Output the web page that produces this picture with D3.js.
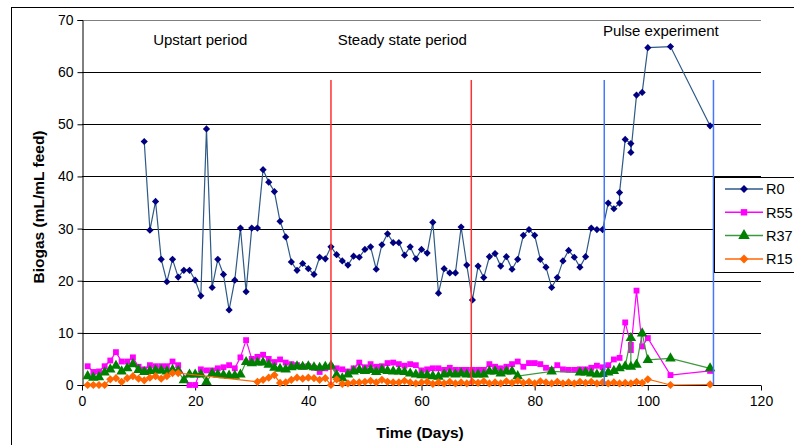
<!DOCTYPE html>
<html>
<head>
<meta charset="utf-8">
<script src="https://cdn.jsdelivr.net/npm/d3@7"></script>
<style>
  body { margin: 0; background: #fff; }
  svg { font-family: "Liberation Sans", Arial, sans-serif; }
</style>
</head>
<body>
<div id="vizcont"></div>
<script>
// ---- data ----
var r0Days = [11,12,13,14,15,16,17,18,19,20,21,22,23,24,25,26,27,28,29,30,31,32,33,34,35,36,37,38,39,40,
  41,42,43,44,45,46,47,48,49,50,51,52,53,54,55,56,57,58,59,60,61,62,63,64,65,66,67,68,69,70,
  71,72,73,74,75,76,77,78,79,80,81,82,83,84,85,86,87,88,89,90,91,92,93,94,95,95,96,97,97,98,99,100,104,111];
var r0Vals = [46.7,29.7,35.2,24.1,19.8,24.1,20.7,22.0,22.0,20.1,17.1,49.1,18.7,24.1,21.2,14.4,20.1,30.1,17.9,30.1,
  30.1,41.3,38.9,37.1,31.4,28.4,23.6,22.0,23.3,22.3,21.2,24.5,24.2,26.5,25.0,23.8,23.0,24.7,24.5,26.0,
  26.5,22.2,26.9,29.0,27.3,27.3,24.9,26.5,24.2,26.0,25.3,31.2,17.6,22.3,21.5,21.5,30.3,23.0,16.3,22.8,
  20.6,24.6,25.2,22.8,24.6,22.2,24.1,28.7,29.8,28.7,24.1,22.6,18.7,20.6,23.8,25.8,24.5,22.6,24.6,30.1,
  29.8,29.8,34.9,33.8,34.9,36.9,47.1,46.3,44.6,55.6,56.1,64.7,64.9,49.7];

var r55Days = [1,2,3,4,5,6,7,8,9,10,11,12,13,14,15,16,17,19,20,
  21,22,23,24,25,26,27,28,29,30,31,32,33,34,35,36,37,38,39,40,41,42,43,44,
  45,46,47,48,49,50,51,52,53,54,55,56,57,58,59,60,61,62,63,64,65,66,67,68,69,70,
  71,72,73,74,75,76,77,78,79,80,81,82,83,84,85,86,87,88,89,90,91,92,93,94,95,96,97,97,98,99,100,104,111];
var r55Vals = [3.6,2.5,2.6,3.6,4.7,6.3,4.5,4.5,5.3,3.5,3.0,3.8,3.6,3.6,3.6,4.5,3.8,0.0,0.0,
  3.0,2.8,2.8,3.2,3.4,3.8,3.2,5.3,8.6,5.0,5.4,5.8,5.0,4.4,4.9,4.3,4.0,3.8,3.5,3.6,3.3,2.5,3.2,3.5,
  3.2,3.0,2.6,3.2,4.3,3.4,4.0,3.5,3.6,4.2,4.3,4.0,3.7,4.0,3.8,2.8,3.0,3.2,3.2,2.9,3.3,2.9,2.9,2.9,2.9,2.9,
  2.9,4.0,3.5,3.2,3.5,4.0,4.5,3.5,4.2,4.2,4.0,3.3,2.9,3.8,3.0,2.9,2.9,3.0,3.0,3.3,3.7,3.4,3.8,4.9,5.2,12.0,7.7,6.7,18.1,7.4,9.0,1.9,2.7];

var r37Days = [1,2,3,4,5,6,7,8,9,10,11,12,13,14,15,16,17,18,19,20,
  21,22,23,24,25,26,27,28,29,30,31,32,33,34,35,36,37,38,39,40,41,42,43,44,
  45,46,47,48,49,50,51,52,53,54,55,56,57,58,59,60,61,62,63,64,65,66,67,68,69,70,
  71,72,73,74,75,76,77,83,88,89,90,91,92,93,94,95,96,97,97,98,99,100,104,111];
var r37Vals = [1.7,1.4,1.5,2.4,3.0,3.7,2.6,3.2,4.0,2.9,2.5,2.7,2.8,2.8,2.6,2.9,2.7,0.9,2.0,2.0,
  2.0,0.6,2.2,2.0,1.9,1.8,1.8,2.0,4.4,4.2,4.3,4.3,3.9,3.3,3.1,3.0,3.4,3.6,3.5,3.6,3.4,3.3,3.5,3.7,
  1.9,1.3,2.0,2.6,2.9,2.7,2.9,2.5,2.9,2.7,2.6,2.6,2.5,2.2,2.0,1.9,1.9,1.7,1.6,2.0,2.2,2.0,2.2,2.0,2.0,2.0,
  2.0,2.6,2.6,2.2,2.6,2.6,1.7,2.6,2.4,2.4,2.2,2.0,2.1,2.4,2.7,3.2,3.6,9.0,3.5,3.9,9.9,4.8,5.1,3.2];

var r15Days = [1,2,3,4,5,6,7,8,9,10,11,12,13,14,15,16,17,
  31,32,33,34,35,36,37,38,39,40,41,42,43,44,45,46,47,48,49,50,51,52,53,54,55,56,57,58,59,60,61,62,
  63,64,65,66,67,68,69,70,71,72,73,74,75,76,77,78,79,80,81,82,83,84,85,86,87,88,89,90,91,92,93,94,95,96,97,98,99,100,104,111];
var r15Vals = [0.0,0.0,0.0,0.0,1.1,1.3,0.6,1.3,1.7,1.2,0.9,1.4,1.7,1.2,1.7,2.3,2.3,
  0.6,1.0,1.4,1.9,0.4,0.5,1.0,1.4,1.2,1.4,1.3,1.0,1.3,0.0,1.1,0.2,0.3,0.5,0.5,0.6,0.8,0.5,1.0,0.6,0.5,0.5,0.8,0.5,0.3,0.5,0.6,0.2,
  0.5,0.3,0.6,0.3,0.5,0.3,0.6,0.4,0.7,0.3,0.5,0.3,0.7,0.4,0.8,0.4,0.6,0.3,0.7,0.5,0.3,0.6,0.3,0.5,0.3,0.6,0.4,0.6,0.3,0.5,0.3,0.5,0.3,0.4,0.3,0.6,0.4,1.1,0.0,0.1];

var seriesNames = ["R0", "R55", "R37", "R15"];
var xTicks = [0, 20, 40, 60, 80, 100, 120];
var yTicks = [0, 10, 20, 30, 40, 50, 60, 70];

// period boundaries (days) and period labels
var redLines = [44.0, 68.8];
var blueLines = [92.3, 111.6];
var periodLabels = [
  {text: "Upstart period", day: 20.9, val: 66.2},
  {text: "Steady state period", day: 56.6, val: 66.2},
  {text: "Pulse experiment", day: 102.3, val: 67.9}
];

function zipSeries(days, vals) {
  return days.map(function(d, i) { return {day: d, val: vals[i]}; });
}

var series = [
  {name: seriesNames[0], data: zipSeries(r0Days, r0Vals), line: "#2E5A87", fill: "#000080", sym: d3.symbolSquare, size: 26, rot: 45},
  {name: seriesNames[1], data: zipSeries(r55Days, r55Vals), line: "#FF00FF", fill: "#FF00FF", sym: d3.symbolSquare, size: 34, rot: 0},
  {name: seriesNames[2], data: zipSeries(r37Days, r37Vals), line: "#3C9A3C", fill: "#008000", sym: d3.symbolTriangle, size: 48, rot: 0},
  {name: seriesNames[3], data: zipSeries(r15Days, r15Vals), line: "#FF6600", fill: "#FF6600", sym: d3.symbolSquare, size: 34, rot: 45}
];

var W = 794, H = 445;
var svg = d3.select("#vizcont").append("svg")
  .attr("width", W).attr("height", H);

// chart outer border
svg.append("rect")
  .attr("x", 11.5).attr("y", 7.5)
  .attr("width", 900).attr("height", 600)
  .attr("fill", "#fff").attr("stroke", "#000");

var x = d3.scaleLinear().domain([0, 120]).range([82, 761]);
var y = d3.scaleLinear().domain([0, 70]).range([385, 20]);

// gridlines
svg.append("g")
  .selectAll("line")
  .data(yTicks.filter(function(t) { return t > 0; }))
  .enter().append("line")
  .attr("x1", x(0)).attr("x2", x(120))
  .attr("y1", function(d) { return Math.round(y(d)) + 0.5; })
  .attr("y2", function(d) { return Math.round(y(d)) + 0.5; })
  .attr("stroke", function(d) { return d === 70 ? "#808080" : "#000"; })
  .attr("stroke-width", 1);

// axes
var xAxis = svg.append("g")
  .attr("transform", "translate(0," + (y(0) + 0.5) + ")")
  .call(d3.axisBottom(x).tickValues(xTicks).tickSize(5).tickPadding(6));
var yAxis = svg.append("g")
  .attr("transform", "translate(" + (x(0) + 0.5) + ",0)")
  .call(d3.axisLeft(y).tickValues(yTicks).tickSize(5).tickPadding(4));
[xAxis, yAxis].forEach(function(a) {
  a.select(".domain").attr("stroke", "#000");
  a.selectAll(".tick line").attr("stroke", "#000");
  a.selectAll(".tick text")
    .attr("fill", "#000")
    .style("font-size", "14px")
    .style("font-family", "'Liberation Sans', Arial, sans-serif");
});
xAxis.select(".domain").attr("d", "M" + x(0) + ",0H" + x(120));

// axis titles
svg.append("text")
  .attr("x", 420).attr("y", 438)
  .attr("text-anchor", "middle")
  .style("font-size", "15.5px").style("font-weight", "bold")
  .text("Time (Days)");
svg.append("text")
  .attr("transform", "translate(44," + 207 + ") rotate(-90)")
  .attr("text-anchor", "middle")
  .style("font-size", "15.5px").style("font-weight", "bold")
  .text("Biogas (mL/mL feed)");

// series
var line = d3.line()
  .x(function(d) { return x(d.day); })
  .y(function(d) { return y(d.val); });

series.forEach(function(s) {
  var g = svg.append("g");
  g.append("path")
    .datum(s.data)
    .attr("fill", "none")
    .attr("stroke", s.line)
    .attr("stroke-width", 1.2)
    .attr("d", line);
  g.selectAll("path.m")
    .data(s.data)
    .enter().append("path")
    .attr("class", "m")
    .attr("transform", function(d) {
      return "translate(" + x(d.day) + "," + y(d.val) + ") rotate(" + s.rot + ")";
    })
    .attr("d", d3.symbol().type(s.sym).size(s.size))
    .attr("fill", s.fill);
});

// period boundary lines
svg.append("g").selectAll("line")
  .data(redLines.map(function(d) { return {day: d, c: "#FF3030"}; })
    .concat(blueLines.map(function(d) { return {day: d, c: "#4477FF"}; })))
  .enter().append("line")
  .attr("x1", function(d) { return x(d.day); })
  .attr("x2", function(d) { return x(d.day); })
  .attr("y1", y(58.5)).attr("y2", y(0))
  .attr("stroke", function(d) { return d.c; })
  .attr("stroke-width", 1.5);

// period labels
svg.append("g").selectAll("text")
  .data(periodLabels)
  .enter().append("text")
  .attr("x", function(d) { return x(d.day); })
  .attr("y", function(d) { return y(d.val) + 5; })
  .attr("text-anchor", "middle")
  .style("font-size", "15px")
  .text(function(d) { return d.text; });

// legend
var lg = svg.append("g").attr("transform", "translate(714,177)");
lg.append("rect")
  .attr("x", 0.5).attr("y", 0.5)
  .attr("width", 120).attr("height", 95)
  .attr("fill", "#fff").attr("stroke", "#000");
var item = lg.selectAll("g.item")
  .data(series)
  .enter().append("g")
  .attr("class", "item")
  .attr("transform", function(d, i) { return "translate(0," + (12 + i * 23.3) + ")"; });
item.append("line")
  .attr("x1", 11).attr("x2", 49)
  .attr("stroke", function(d) { return d.line; })
  .attr("stroke-width", 1.5);
item.append("path")
  .attr("transform", function(d) { return "translate(30,0) rotate(" + d.rot + ")"; })
  .attr("d", function(d) { return d3.symbol().type(d.sym).size(d.size * 1.2)(); })
  .attr("fill", function(d) { return d.fill; });
item.append("text")
  .attr("x", 52).attr("dy", "0.36em")
  .style("font-size", "14.5px")
  .text(function(d) { return d.name; });
</script>
</body>
</html>
